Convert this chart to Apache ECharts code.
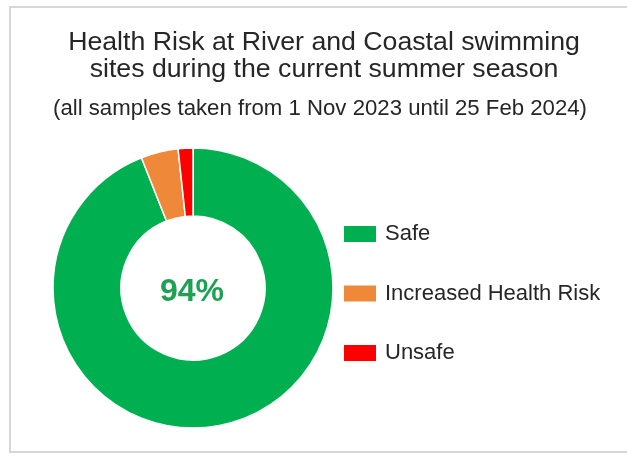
<!DOCTYPE html>
<html>
<head>
<meta charset="utf-8">
<script src="https://cdn.jsdelivr.net/npm/echarts@6/dist/echarts.min.js"></script>
<style>
html,body{margin:0;padding:0;background:#fff;}
#chart{width:627px;height:454px;}
</style>
</head>
<body>
<div id="chart"></div>
<script>
const titleText = 'Health Risk at River and Coastal swimming\nsites during the current summer season';
const subtitleText = '(all samples taken from 1 Nov 2023 until 25 Feb 2024)';
const categories = ['Safe', 'Increased Health Risk', 'Unsafe'];
const values = [94, 4.3, 1.7];
const colors = ['#00B050', '#F0883A', '#FF0000'];

const total = values.reduce((a, b) => a + b, 0);
const safePct = Math.round(values[0] / total * 100) + '%';

const chart = echarts.init(document.getElementById('chart'));
const data = categories.map((name, i) => ({
  name: name,
  value: values[i],
  itemStyle: { color: colors[i] }
}));

chart.setOption({
  backgroundColor: '#fff',
  animation: false,
  graphic: [{
    type: 'rect',
    shape: { x: 10, y: 7, width: 640, height: 445 },
    style: { fill: 'none', stroke: '#d6d6d6', lineWidth: 2 },
    silent: true
  }],
  title: [{
    text: titleText,
    left: 324,
    top: 29,
    textAlign: 'center',
    padding: 0,
    textStyle: { fontFamily: 'Liberation Sans', fontSize: 26.7, fontWeight: 'normal', color: '#262626', lineHeight: 27 }
  }, {
    text: subtitleText,
    left: 320,
    top: 97,
    textAlign: 'center',
    padding: 0,
    textStyle: { fontFamily: 'Liberation Sans', fontSize: 22.2, fontWeight: 'normal', color: '#262626', lineHeight: 24 }
  }, {
    text: safePct,
    left: 192,
    top: 276,
    textAlign: 'center',
    padding: 0,
    textStyle: { fontFamily: 'Liberation Sans', fontSize: 32, fontWeight: 'bold', color: '#1EA152', lineHeight: 32 }
  }],
  legend: {
    orient: 'vertical',
    left: 342,
    top: 223,
    padding: 0,
    itemWidth: 34,
    itemHeight: 18,
    itemGap: 37.5,
    icon: 'rect',
    data: categories,
    textStyle: { fontFamily: 'Liberation Sans', fontSize: 22, color: '#262626', padding: [0, 0, 0, 3] }
  },
  series: [{
    type: 'pie',
    center: [193, 288],
    radius: [72, 140],
    startAngle: 90,
    clockwise: true,
    itemStyle: { borderColor: '#fff', borderWidth: 1.5 },
    label: { show: false },
    labelLine: { show: false },
    emphasis: { disabled: true },
    data: data
  }]
});
</script>
</body>
</html>
